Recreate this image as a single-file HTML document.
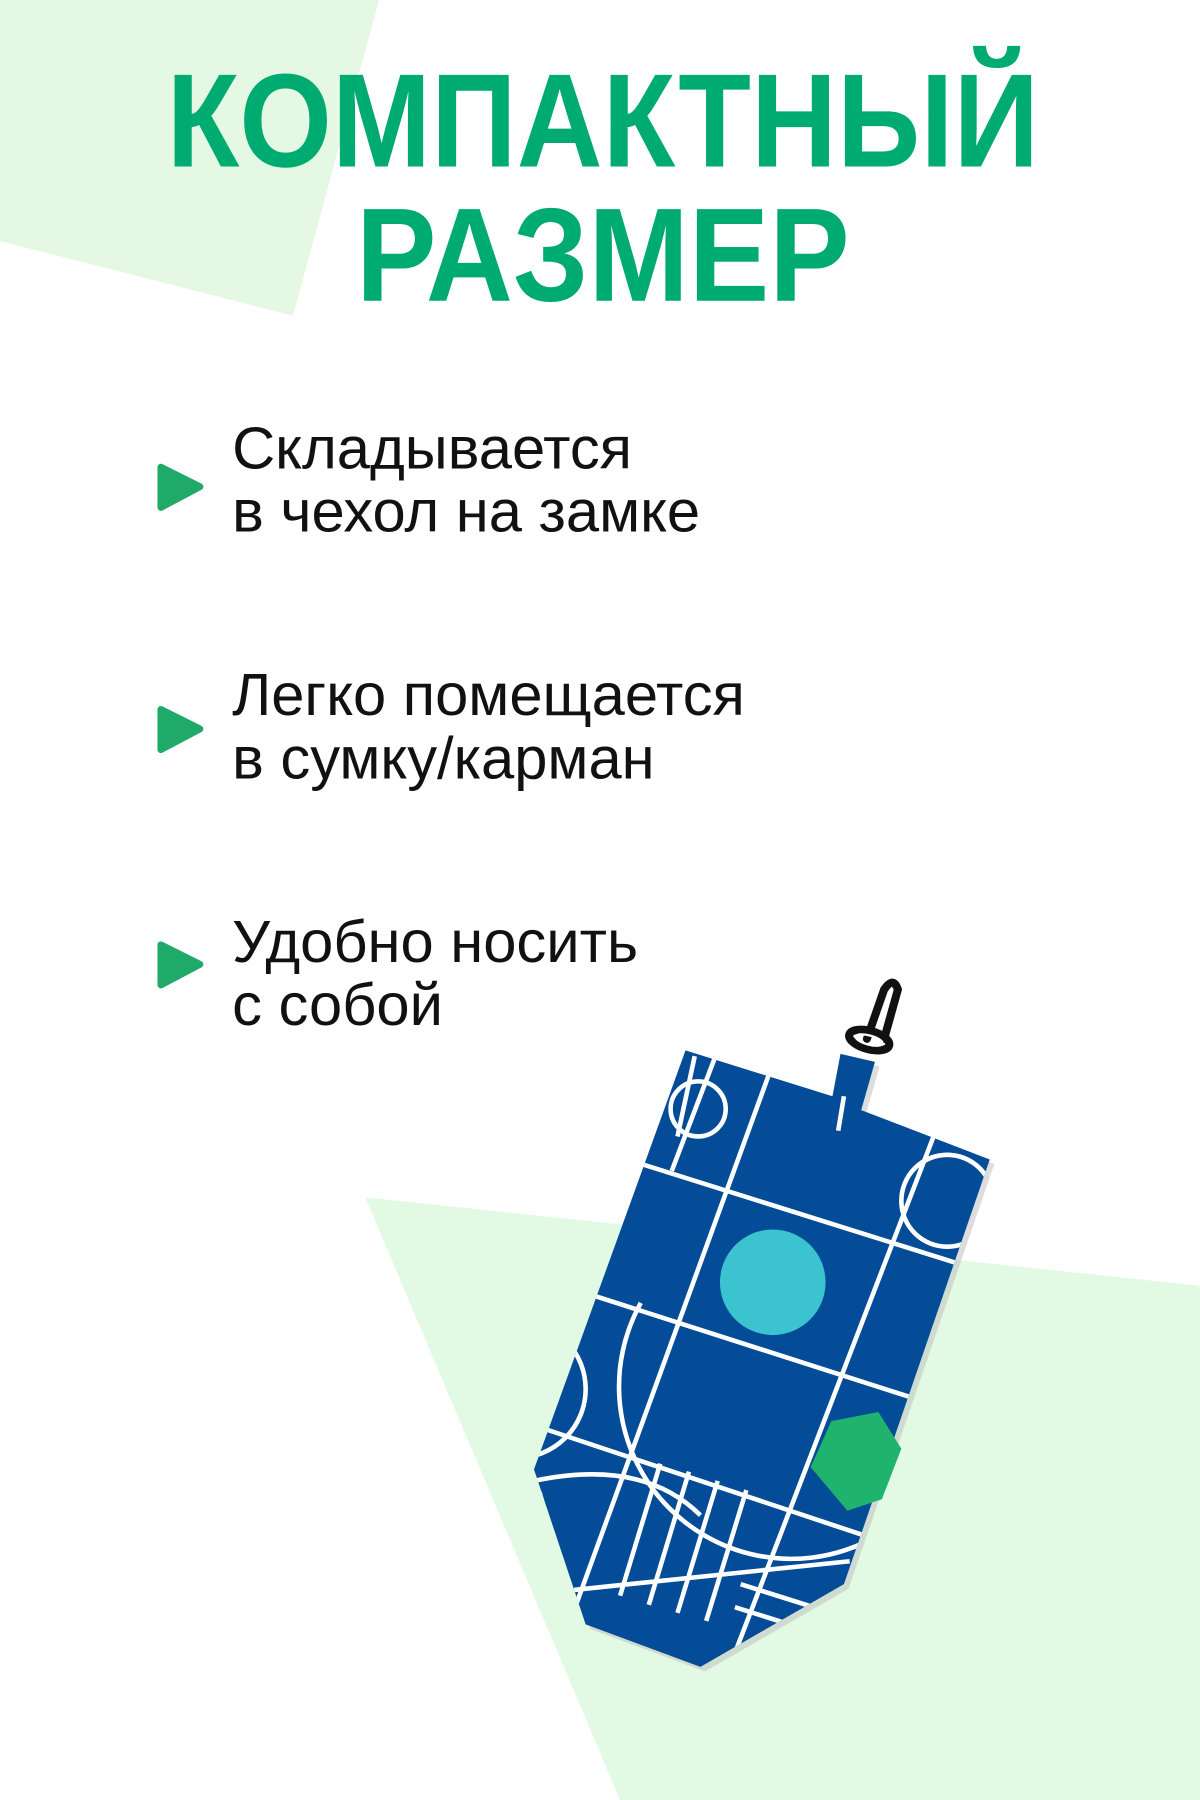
<!DOCTYPE html>
<html><head><meta charset="utf-8"><style>
html,body{margin:0;padding:0;background:#fff}
svg{display:block}
</style></head><body>
<svg width="1200" height="1800" viewBox="0 0 1045 1568" xmlns="http://www.w3.org/2000/svg">
<rect width="1045" height="1568" fill="#fff"/>
<polygon points="0,0 330,0 255,275 0,210" fill="#e4f8e4"/>
<polygon points="318,1043 1045,1120 1045,1568 540,1568" fill="#e2fae4"/>
<g font-family="Liberation Sans, DejaVu Sans, sans-serif" font-weight="bold" fill="#00ab72">
<text x="145" y="145" font-size="116" textLength="760" lengthAdjust="spacingAndGlyphs">КОМПАКТНЫЙ</text>
<text x="310" y="262" font-size="116" textLength="430" lengthAdjust="spacingAndGlyphs">РАЗМЕР</text>
</g>
<g fill="#1faa6a">
<polygon points="140,407 174,424 140,442" stroke="#1faa6a" stroke-width="6" stroke-linejoin="round"/>
<polygon points="140,618 174,635 140,653" stroke="#1faa6a" stroke-width="6" stroke-linejoin="round"/>
<polygon points="140,823 174,840 140,858" stroke="#1faa6a" stroke-width="6" stroke-linejoin="round"/>
</g>
<g font-family="Liberation Sans, DejaVu Sans, sans-serif" font-size="52" fill="#111">
<text x="202" y="408">Складывается</text>
<text x="202" y="463">в чехол на замке</text>
<text x="202" y="623">Легко помещается</text>
<text x="202" y="678">в сумку/карман</text>
<text x="202" y="838">Удобно носить</text>
<text x="202" y="893">с собой</text>
</g>
<defs>
<clipPath id="bag"><polygon points="597,915 725,955 732,918 762,925 750,967 862,1010 735,1380 610,1452 510,1415 465,1280"/></clipPath>
</defs>
<polygon points="601,919 729,959 736,922 766,929 754,971 866,1014 739,1384 614,1456 514,1419 469,1284" fill="#bbb" opacity="0.5"/>
<polygon points="597,915 725,955 732,918 762,925 750,967 862,1010 735,1380 610,1452 510,1415 465,1280" fill="#044b98"/>
<g clip-path="url(#bag)" stroke="#fff" stroke-width="4" fill="none">
<line x1="530" y1="1005" x2="880" y2="1115"/>
<line x1="490" y1="1120" x2="880" y2="1245"/>
<line x1="460" y1="1240" x2="760" y2="1340"/>
<line x1="500" y1="1385" x2="740" y2="1360"/>
<line x1="625" y1="915" x2="585" y2="1020"/>
<line x1="670" y1="935" x2="490" y2="1430"/>
<line x1="815" y1="985" x2="640" y2="1440"/>
<line x1="735" y1="955" x2="730" y2="985"/>
<circle cx="608" cy="966" r="24"/>
<line x1="605" y1="920" x2="590" y2="990"/>
<circle cx="825" cy="1046" r="40"/>
<path d="M558,1135 A150,150 0 0 0 750,1345"/>
<circle cx="450" cy="1210" r="60"/>
<path d="M465,1290 Q560,1270 610,1320"/>
<line x1="575" y1="1275" x2="540" y2="1390"/>
<line x1="600" y1="1282" x2="565" y2="1398"/>
<line x1="625" y1="1290" x2="590" y2="1405"/>
<line x1="650" y1="1298" x2="615" y2="1412"/>
<line x1="645" y1="1380" x2="740" y2="1410"/>
<line x1="640" y1="1400" x2="735" y2="1430"/>
<line x1="470" y1="1300" x2="480" y2="1340"/>
</g>
<circle cx="673" cy="1117" r="46" fill="#3bc3d0"/>
<polygon points="724,1238 765,1230 785,1262 768,1306 738,1316 706,1278" fill="#1fb36e"/>
<g fill="none" stroke="#111" stroke-width="7" stroke-linecap="round">
<path d="M755,905 L770,862 Q778,850 782,862 L770,905"/>
<ellipse cx="757" cy="906" rx="18" ry="8" transform="rotate(15 757 906)"/>
</g>
<g fill="none" stroke="#fff" stroke-width="2">
<ellipse cx="757" cy="906" rx="12" ry="4" transform="rotate(15 757 906)"/>
</g>
</svg>
</body></html>
